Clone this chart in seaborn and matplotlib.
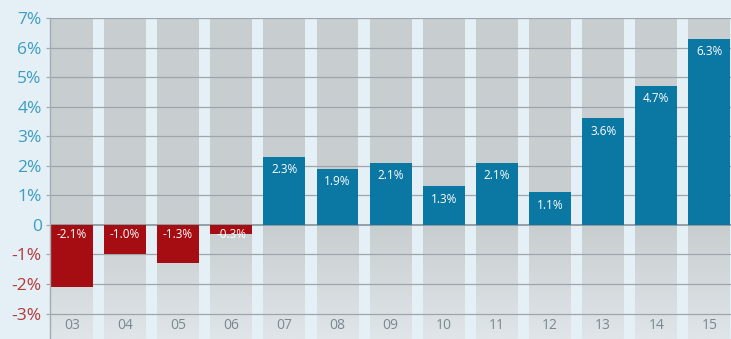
import numpy as np
import pandas as pd
import matplotlib
matplotlib.use("Agg")
import matplotlib.pyplot as plt
import seaborn as sns

# data
years = ["03", "04", "05", "06", "07", "08", "09", "10", "11", "12", "13", "14", "15"]
growth = [-2.1, -1.0, -1.3, -0.3, 2.3, 1.9, 2.1, 1.3, 2.1, 1.1, 3.6, 4.7, 6.3]
ytick_vals = [-3, -2, -1, 0, 1, 2, 3, 4, 5, 6, 7]
ytick_labels = ["-3%", "-2%", "-1%", "0", "1%", "2%", "3%", "4%", "5%", "6%", "7%"]

BG = "#e4eff6"
COL_GRAY = "#c8cdd0"
BLUE = "#0b77a3"
RED = "#a50d12"
TICK_BLUE = "#3c9dc0"
TICK_RED = "#b2393b"

sns.set_style("white")
plt.rcParams['font.family'] = ['Open Sans', 'DejaVu Sans']

df = pd.DataFrame({"year": years, "growth": growth})
df["sign"] = np.where(df["growth"] < 0, "neg", "pos")

fig = plt.figure(figsize=(7.31, 3.39), dpi=100, facecolor=BG)
ax = fig.add_axes([50 / 731, 0.0, 1 - 50 / 731, 1 - 18 / 339])
ax.set_facecolor(BG)

ymin, ymax = -3.86, 7
width = 0.79
x = np.arange(len(years))

# gray background columns, above zero solid, below zero fading out
ax.bar(x, ymax, width=width, bottom=0, color=COL_GRAY, linewidth=0, zorder=0)
grad = np.linspace(0, 1, 100).reshape(-1, 1)
cmap = matplotlib.colors.LinearSegmentedColormap.from_list("fade", ["#dfe5e8", COL_GRAY])
for xi in x:
    ax.imshow(grad, extent=[xi - width / 2, xi + width / 2, ymin, 0], origin="lower",
              cmap=cmap, aspect="auto", zorder=0)

# grid lines
for v in ytick_vals:
    ax.axhline(v, color="#7f8a90" if v == 0 else "#9ea6ab", lw=1.1 if v == 0 else 0.9, zorder=1)

sns.barplot(data=df, x="year", y="growth", hue="sign", palette={"neg": RED, "pos": BLUE},
            width=width, dodge=False, legend=False, saturation=1, linewidth=0,
            edgecolor="none", ax=ax, zorder=2)

for i, v in enumerate(growth):
    if v >= 0:
        ax.text(i, v - 0.22, f"{v:.1f}%", ha="center", va="top", color="white", fontsize=8.5, zorder=3)
    else:
        ax.text(i, -0.12, f"{v:.1f}%", ha="center", va="top", color="white", fontsize=8.5, zorder=3)
    ax.text(i, -3.42, years[i], ha="center", va="center", color="#7b8890", fontsize=10, zorder=3)

ax.set_xlim(-0.41, 12.405)
ax.set_ylim(ymin, ymax)
ax.set_xticks([])
ax.set_xlabel("")
ax.set_ylabel("")
ax.set_yticks(ytick_vals)
ax.set_yticklabels(ytick_labels, fontsize=12.5)
for lab, v in zip(ax.get_yticklabels(), ytick_vals):
    lab.set_color(TICK_RED if v < 0 else TICK_BLUE)
ax.tick_params(axis="y", length=3, width=0.9, color="#a3abb0", pad=3, left=True)

for s in ["top", "right", "bottom"]:
    ax.spines[s].set_visible(False)
ax.spines["left"].set_color("#a3abb0")
ax.spines["left"].set_linewidth(1)

fig.savefig("out.png", dpi=100, facecolor=BG)
